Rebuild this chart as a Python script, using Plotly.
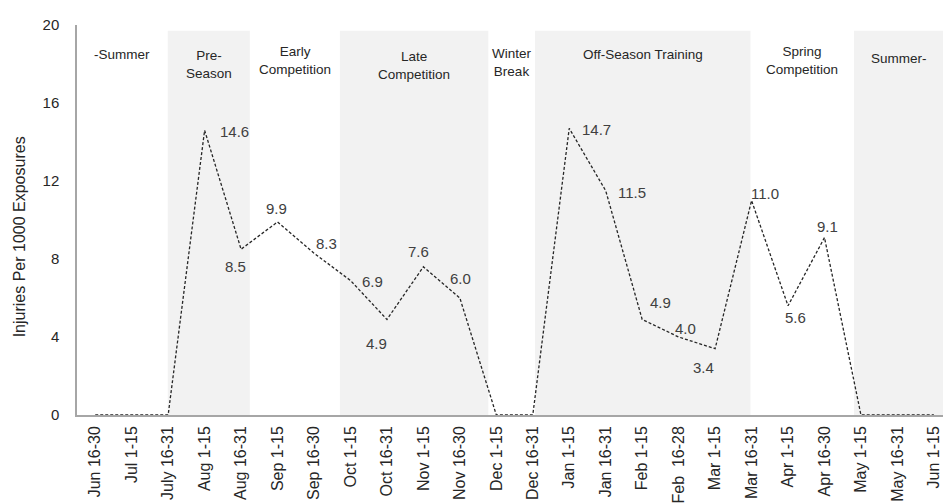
import plotly.graph_objects as go

categories = ["Jun 16-30", "Jul 1-15", "July 16-31", "Aug 1-15", "Aug 16-31",
              "Sep 1-15", "Sep 16-30", "Oct 1-15", "Oct 16-31", "Nov 1-15",
              "Nov 16-30", "Dec 1-15", "Dec 16-31", "Jan 1-15", "Jan 16-31",
              "Feb 1-15", "Feb  16-28", "Mar 1-15", "Mar 16-31", "Apr 1-15",
              "Apr 16-30", "May 1-15", "May 16-31", "Jun 1-15"]
injuries = [0, 0, 0, 14.6, 8.5, 9.9, 8.3, 6.9, 4.9, 7.6, 6.0, 0, 0,
            14.7, 11.5, 4.9, 4.0, 3.4, 11.0, 5.6, 9.1, 0, 0, 0]
# pixel offsets of each value label from its point (dx right, dy down)
label_dx = [0, 0, 0, 30, -6, -1, 12, 22, -10, -5, 1, 0, 0,
            27, 26, 18, 7, -12, 13, 7, 3, 0, 0, 0]
label_dy = [0, 0, 0, 1, 17, -13, -10, 1, 24, -15, -20, 0, 0,
            1, 2, -17, -9, 19, -7, 12, -11, 0, 0, 0]

# Season phases (boundaries in category-index units)
phase_names = ["-Summer", "Pre-<br>Season", "Early<br>Competition", "Late<br>Competition",
               "Winter<br>Break", "Off-Season Training", "Spring<br>Competition", "Summer-"]
phase_bounds = [-0.5, 1.99, 4.24, 6.71, 10.78, 12.06, 17.97, 20.81, 23.25]
phase_shaded = [False, True, False, True, False, True, False, True]
phase_label_y = [18.49, 17.97, 18.18, 17.92, 18.08, 18.49, 18.18, 18.28]

FONT = "Liberation Sans, Arial, sans-serif"
fig = go.Figure()

x_idx = list(range(len(categories)))
for i, name in enumerate(phase_names):
    x0, x1 = phase_bounds[i], phase_bounds[i + 1]
    if phase_shaded[i]:
        fig.add_shape(type="rect", xref="x", yref="y", x0=x0, x1=x1, y0=0, y1=19.7,
                      fillcolor="#f2f2f2", line_width=0, layer="below")
    fig.add_annotation(x=(x0 + x1) / 2, y=phase_label_y[i], text=name, showarrow=False,
                       xref="x", yref="y",
                       font=dict(family=FONT, size=13.5, color="#262626"))

fig.add_trace(go.Scatter(
    x=x_idx, y=injuries, mode="lines",
    line=dict(color="#262626", width=1.3, dash="3px,2px"),
    showlegend=False, hoverinfo="skip"))

for i, v in enumerate(injuries):
    if v > 0:
        fig.add_annotation(x=i, y=v, text="%.1f" % v, showarrow=False,
                           xanchor="center", yanchor="middle",
                           xshift=label_dx[i], yshift=-label_dy[i],
                           font=dict(family=FONT, size=15, color="#404040"))

fig.add_annotation(xref="paper", yref="paper", x=-0.067, y=0.458,
                   xanchor="center", yanchor="middle",
                   text="Injuries Per 1000 Exposures", textangle=-90, showarrow=False,
                   font=dict(family=FONT, size=16, color="#262626"))

fig.update_layout(
    width=943, height=503,
    margin=dict(l=77, r=0, t=25, b=88),
    plot_bgcolor="white", paper_bgcolor="white",
    font=dict(family=FONT, size=15, color="#262626"),
    xaxis=dict(range=[-0.5, 23.25], tickmode="array", tickvals=x_idx, ticktext=categories,
               tickangle=-90, showgrid=False, zeroline=False, showline=True,
               linecolor="#a6a6a6", linewidth=1.5, ticks="", automargin=False,
               ticklabelstandoff=3, ticklabeloverflow="allow",
               tickfont=dict(family=FONT, size=16, color="#262626")),
    yaxis=dict(range=[0, 20], tickvals=[0, 4, 8, 12, 16, 20], showgrid=False,
               zeroline=False, showline=True, linecolor="#a6a6a6", linewidth=1.5,
               ticks="", automargin=False, ticklabelstandoff=13,
               tickfont=dict(family=FONT, size=15, color="#262626")),
)

fig.write_html("out.html", config={"displayModeBar": False},
               post_script="document.body.style.margin='0';")
